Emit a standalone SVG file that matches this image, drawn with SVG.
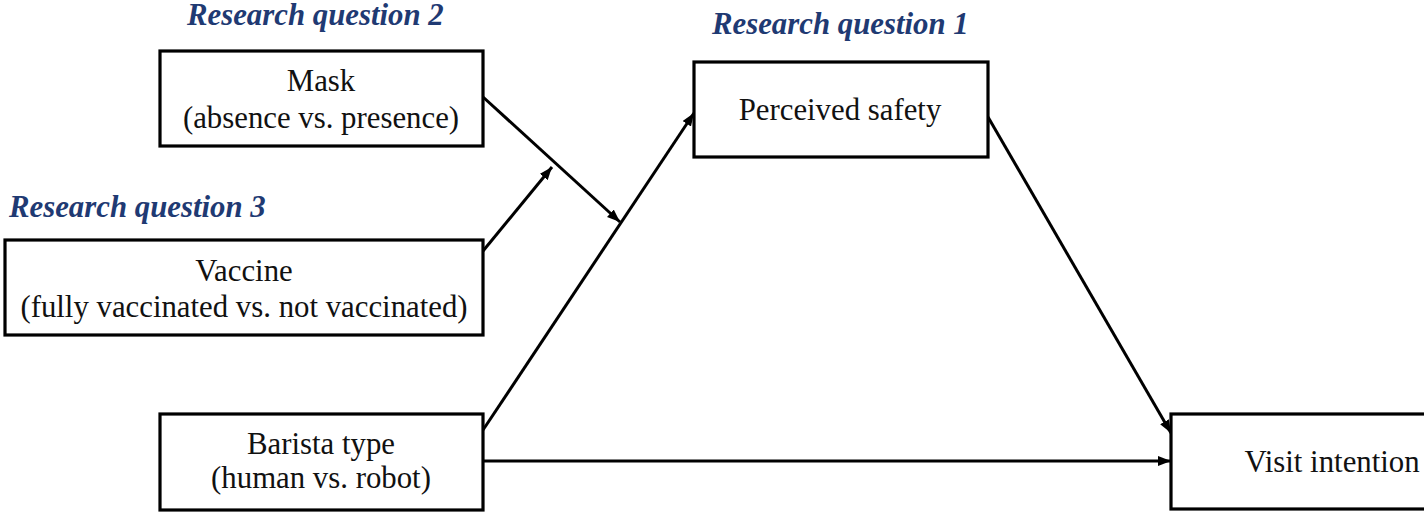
<svg xmlns="http://www.w3.org/2000/svg" width="1424" height="512" viewBox="0 0 1424 512">
  <style>
    .box { fill: #ffffff; stroke: #000000; stroke-width: 3.2; }
    .t { font-family: "Liberation Serif", "Times New Roman", serif; font-size: 30.8px; fill: #111111; text-anchor: middle; }
    .rq { font-family: "Liberation Serif", "Times New Roman", serif; font-size: 30.8px; font-weight: bold; font-style: italic; fill: #1F3A73; }
    .conn { fill: none; stroke: #000000; stroke-width: 3; marker-end: url(#ah); }
  </style>
  <defs>
    <marker id="ah" markerUnits="userSpaceOnUse" markerWidth="14" markerHeight="12" refX="13" refY="5" orient="auto">
      <path d="M0,0 L13,5 L0,10 z" fill="#000000"/>
    </marker>
  </defs>
  <rect width="1424" height="512" fill="#ffffff"/>

  <g id="labels">
    <text class="rq" x="187" y="25">Research question 2</text>
    <text class="rq" x="9" y="217">Research question 3</text>
    <text class="rq" x="712" y="34">Research question 1</text>
  </g>

  <g id="connectors">
    <path class="conn" d="M483,97 L620,222"/>
    <path class="conn" d="M483,251 L552,167"/>
    <path class="conn" d="M483,430 L694,113"/>
    <path class="conn" d="M988,117 L1171,433"/>
    <path class="conn" d="M483,461 L1171,461"/>
  </g>

  <g id="mask">
    <rect class="box" x="160" y="51" width="323" height="95"/>
    <text class="t" x="321" y="91">Mask</text>
    <text class="t" x="321" y="128">(absence vs. presence)</text>
  </g>

  <g id="vaccine">
    <rect class="box" x="5" y="240" width="478" height="95"/>
    <text class="t" x="244" y="281">Vaccine</text>
    <text class="t" x="244" y="317">(fully vaccinated vs. not vaccinated)</text>
  </g>

  <g id="barista">
    <rect class="box" x="160" y="414" width="323" height="96"/>
    <text class="t" x="321" y="454">Barista type</text>
    <text class="t" x="321" y="488">(human vs. robot)</text>
  </g>

  <g id="perceived">
    <rect class="box" x="694" y="62" width="294" height="95"/>
    <text class="t" x="840" y="120">Perceived safety</text>
  </g>

  <g id="visit">
    <rect class="box" x="1171" y="414" width="300" height="95"/>
    <text class="t" x="1332" y="472">Visit intention</text>
  </g>
</svg>
